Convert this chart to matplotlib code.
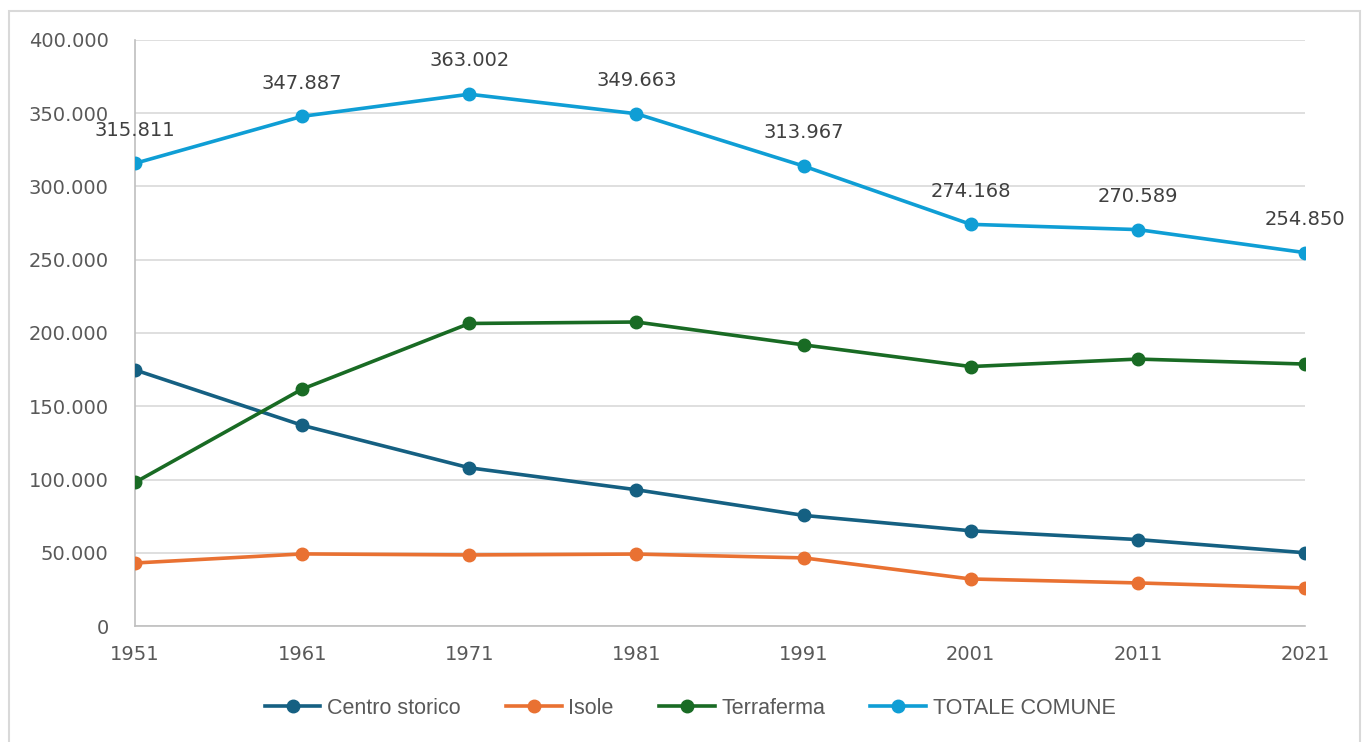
import matplotlib.pyplot as plt
from matplotlib.patches import Rectangle
from matplotlib.ticker import FuncFormatter

plt.rcParams['font.family'] = ['DejaVu Sans']

anni = [1951, 1961, 1971, 1981, 1991, 2001, 2011, 2021]
centro_storico = [174800, 137000, 108000, 93000, 75500, 65000, 59000, 50000]
isole = [43000, 49200, 48500, 49100, 46500, 32100, 29400, 26000]
terraferma = [98000, 161700, 206500, 207500, 191900, 177100, 182200, 178800]
totale = [315811, 347887, 363002, 349663, 313967, 274168, 270589, 254850]

serie = [
    ('Centro storico', centro_storico, '#156082'),
    ('Isole', isole, '#E97132'),
    ('Terraferma', terraferma, '#196B24'),
    ('TOTALE COMUNE', totale, '#0F9ED5'),
]

def fmt(v, pos=None):
    return f'{int(v):,}'.replace(',', '.')

fig = plt.figure(figsize=(13.65, 7.42), dpi=100)
fig.patches.append(Rectangle((9 / 1365, -0.01), 1351 / 1365, (742 - 11) / 742 + 0.01,
                             transform=fig.transFigure, fill=False,
                             edgecolor='#d9d9d9', linewidth=1.5))

ax = fig.add_axes([135 / 1365, 116 / 742, 1170 / 1365, 586 / 742])

for nome, valori, colore in serie:
    ax.plot(anni, valori, color=colore, linewidth=2.6, marker='o',
            markersize=9, label=nome, zorder=3)

for x, y in zip(anni, totale):
    ax.annotate(fmt(y), (x, y), xytext=(0, 24), textcoords='offset points',
                ha='center', va='center', fontsize=14, color='#404040')

ax.set_xlim(1951, 2021)
ax.set_ylim(0, 400000)
ax.set_xticks(anni)
ax.set_yticks(range(0, 400001, 50000))
ax.yaxis.set_major_formatter(FuncFormatter(fmt))
ax.tick_params(length=0, labelsize=14, colors='#595959')
ax.tick_params(axis='x', pad=14)
ax.tick_params(axis='y', pad=19)
ax.grid(axis='y', color='#d9d9d9', linewidth=1.2)
ax.grid(axis='x', visible=False)
ax.set_axisbelow(True)
for lato in ['top', 'right']:
    ax.spines[lato].set_visible(False)
for lato in ['left', 'bottom']:
    ax.spines[lato].set_color('#bfbfbf')
    ax.spines[lato].set_linewidth(1.2)

leg = fig.legend(loc='center', bbox_to_anchor=(690 / 1365, 1 - 708 / 742), ncol=4,
                 frameon=False, handlelength=2.6, columnspacing=2.1,
                 handletextpad=0.3,
                 prop={'family': ['Liberation Sans'], 'size': 15.5})
for t in leg.get_texts():
    t.set_color('#595959')

fig.savefig('out.png', dpi=100)
